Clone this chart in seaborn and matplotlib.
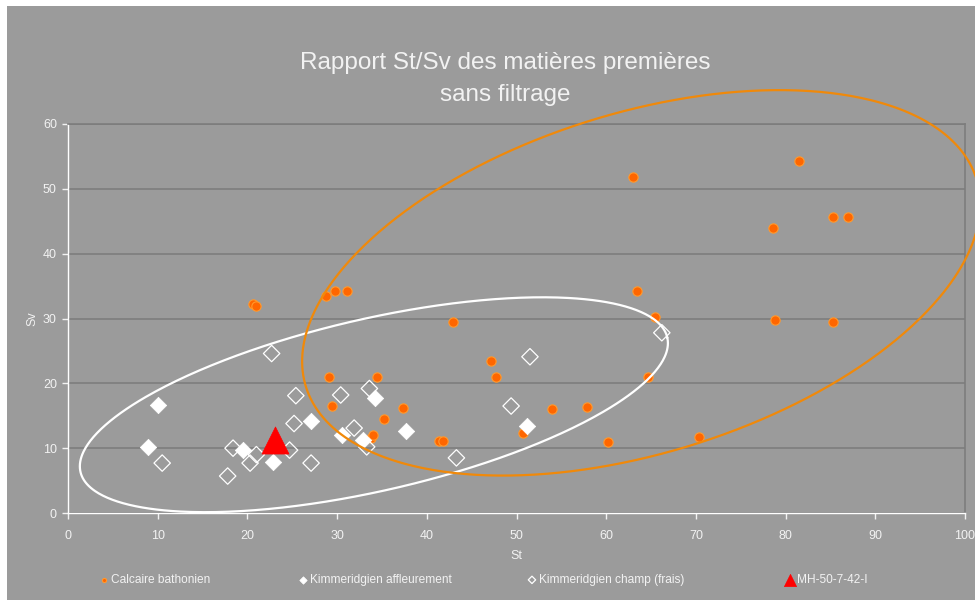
import numpy as np
import pandas as pd
import matplotlib
matplotlib.use('Agg')
import matplotlib.pyplot as plt
import seaborn as sns
from matplotlib.patches import Rectangle

# Data
calc_st = [20.6, 21.0, 28.8, 29.8, 31.1, 63.0, 81.5, 78.6, 85.3, 87.0, 63.4, 65.4, 78.8, 85.3,
           42.9, 29.1, 34.4, 47.2, 47.7, 64.7, 29.4, 35.2, 37.3, 33.8, 34.0, 41.4, 41.8,
           54.0, 57.9, 50.7, 60.2, 70.3]
calc_sv = [32.2, 32.0, 33.5, 34.3, 34.3, 51.9, 54.3, 43.9, 45.6, 45.6, 34.2, 30.3, 29.8, 29.4,
           29.4, 21.0, 20.9, 23.5, 20.9, 20.9, 16.5, 14.5, 16.2, 11.6, 12.0, 11.1, 11.1,
           16.1, 16.4, 12.4, 11.0, 11.7]

aff_st = [10.0, 8.9, 19.5, 22.9, 27.1, 34.2, 30.5, 32.9, 37.7, 51.2]
aff_sv = [16.7, 10.2, 9.7, 7.9, 14.2, 17.8, 12.1, 11.3, 12.7, 13.4]

champ_st = [10.5, 17.8, 18.4, 20.3, 21.0, 24.7, 27.1, 25.2, 25.4, 22.7, 30.4, 31.9,
            33.6, 33.3, 43.3, 51.5, 49.4, 66.2]
champ_sv = [7.7, 5.7, 10.0, 7.7, 9.0, 9.7, 7.7, 13.8, 18.1, 24.6, 18.2, 13.1,
            19.2, 10.2, 8.5, 24.1, 16.5, 27.8]

mh_st = [23.1]
mh_sv = [11.3]

labels = ['Calcaire bathonien', 'Kimmeridgien affleurement',
          'Kimmeridgien champ (frais)', 'MH-50-7-42-I']

# hand-drawn ellipses: centre (data), semi-axes (pixels), angle (deg)
orange_ell = dict(center=(63.9, 35.5), a=351, b=170, angle=17.2)
white_ell = dict(center=(34.1, 16.7), a=301, b=86, angle=12.9)

bg = '#9b9b9b'
txt = '#f2f2f2'

sns.set_style('white')
plt.rcParams['font.family'] = ['Liberation Sans', 'DejaVu Sans']

fig = plt.figure(figsize=(9.75, 6.06), dpi=100, facecolor='white')
fig.patches.append(Rectangle((7 / 975, 0.01), 1, 1 - 0.01 - 6 / 606,
                             transform=fig.transFigure, facecolor=bg,
                             edgecolor='none', zorder=-10))

ax = fig.add_axes([68 / 975, 1 - 513 / 606, (965 - 68) / 975, (513 - 124) / 606])
ax.set_facecolor(bg)
ax.set_xlim(0, 100)
ax.set_ylim(0, 60)

sns.scatterplot(x=calc_st, y=calc_sv, ax=ax, marker='o', s=45, color='#ff6600',
                edgecolor='#ff9a2e', linewidth=0.8, label=labels[0], zorder=3)
sns.scatterplot(x=aff_st, y=aff_sv, ax=ax, marker='D', s=70, color='white',
                edgecolor='white', linewidth=0.5, label=labels[1], zorder=3)
sns.scatterplot(x=champ_st, y=champ_sv, ax=ax, marker='D', s=70, color='none',
                edgecolor='white', linewidth=0.9, label=labels[2], zorder=3)
sns.scatterplot(x=mh_st, y=mh_sv, ax=ax, marker='^', s=380, color='#ff0000',
                edgecolor='#ff0000', linewidth=0.5, label=labels[3], zorder=4)

# ellipses drawn in screen space, then mapped back to data
t = np.linspace(0, 2 * np.pi, 500)
for ell, col in [(white_ell, 'white'), (orange_ell, '#f0890a')]:
    cx, cy = ax.transData.transform(ell['center'])
    th = np.radians(ell['angle'])
    ex = ell['a'] * np.cos(t) * np.cos(th) - ell['b'] * np.sin(t) * np.sin(th)
    ey = ell['a'] * np.cos(t) * np.sin(th) + ell['b'] * np.sin(t) * np.cos(th)
    pts = ax.transData.inverted().transform(np.column_stack([cx + ex, cy + ey]))
    ax.plot(pts[:, 0], pts[:, 1], color=col, lw=1.6, clip_on=False, zorder=5)

# grid and frame
ax.set_yticks(range(0, 61, 10))
ax.set_xticks(range(0, 101, 10))
ax.yaxis.grid(True, color='#7d7d7d', lw=1.2)
ax.xaxis.grid(False)
ax.set_axisbelow(True)
for side in ['top', 'right']:
    ax.spines[side].set_color('#7d7d7d')
    ax.spines[side].set_linewidth(1.2)
for side in ['left', 'bottom']:
    ax.spines[side].set_color('white')
    ax.spines[side].set_linewidth(1.0)
ax.tick_params(axis='both', colors=txt, labelsize=9, length=4, width=1,
               direction='out', left=True, bottom=True)
ax.tick_params(axis='y', pad=4)
ax.tick_params(axis='x', pad=8)

ax.set_xlabel('St', color=txt, fontsize=9, labelpad=6)
ax.set_ylabel('Sv', color=txt, fontsize=9, labelpad=3)

fig.text(0.518, 1 - 63 / 606, 'Rapport St/Sv des matières premières', color=txt,
         fontsize=17.5, ha='center', va='center')
fig.text(0.518, 1 - 95 / 606, 'sans filtrage', color=txt,
         fontsize=17.5, ha='center', va='center')

# legend: one entry per slot along the bottom
handles, labs = ax.get_legend_handles_labels()
ax.legend_.remove()
slots = [98, 297, 526, 784]
for h, lab, x0 in zip(handles, labs, slots):
    fig.legend([h], [lab], loc='center left', bbox_to_anchor=(x0 / 975, 1 - 580 / 606),
               frameon=False, fontsize=8.6, labelcolor=txt, borderpad=0,
               borderaxespad=0, handletextpad=0.1, handlelength=1.0,
               markerscale=0.45)

fig.savefig('out.png', dpi=100, facecolor='white')
